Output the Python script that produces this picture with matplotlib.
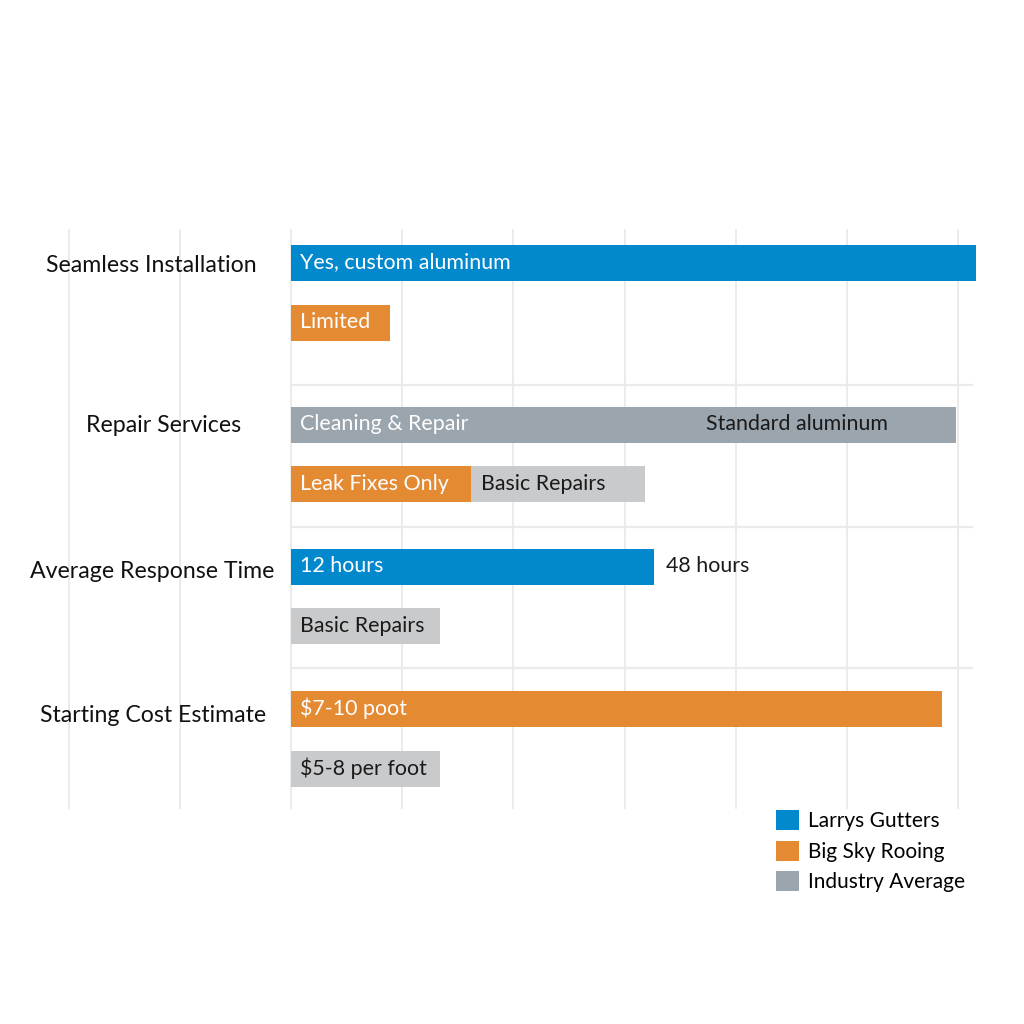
import matplotlib
matplotlib.use("Agg")
import matplotlib.pyplot as plt
from matplotlib.patches import Patch

plt.rcParams['font.family'] = ['Lato', 'DejaVu Sans']

# categories and their label rows
categories = ["Seamless Installation", "Repair Services",
              "Average Response Time", "Starting Cost Estimate"]

# bar segments (one row can hold two stacked segments)
seg_row = [0, 1, 2, 3, 3, 4, 5, 6, 7]
seg_width = [6.16, 0.89, 5.98, 1.62, 1.56, 3.26, 1.34, 5.85, 1.34]
seg_color = ["blue", "orange", "slate", "orange", "light", "blue", "light", "orange", "light"]
seg_label = ["Yes, custom aluminum", "Limited", "Cleaning & Repair", "Leak Fixes Only",
             "Basic Repairs", "12 hours", "Basic Repairs", "$7-10 poot", "$5-8 per foot"]

# extra text labels (row, x position, text)
extra_row = [2, 4]
extra_x = [3.73, 3.37]
extra_text = ["Standard aluminum", "48 hours"]

legend_names = ["Larrys Gutters", "Big Sky Rooing", "Industry Average"]
legend_keys = ["blue", "orange", "slate"]

colors = {"blue": "#0288cc", "orange": "#e38a33", "slate": "#9aa5ae", "light": "#c9cacc"}
text_colors = {"blue": "white", "orange": "white", "slate": "white", "light": "#1a1a1a"}

# layout (pixel rows, axis uses grid units along x)
row_y = [263, 322.5, 424.5, 484, 567, 626, 709, 768.5]
label_cx = [151, 164, 152, 153]
label_y = [265, 426, 572, 716]
bar_h = 36
px0, unit = 291, 111.2

fig = plt.figure(figsize=(10.24, 10.24), dpi=100)
ax = fig.add_axes([0, 0, 1, 1])
ax.set_xlim(-px0 / unit, (1024 - px0) / unit)
ax.set_ylim(1024, 0)
ax.axis("off")

# grid
for g in range(-2, 7):
    ax.plot([g, g], [230, 808], color="#ebebeb", lw=1.4, zorder=0)
for y in [385, 527, 668]:
    ax.plot([0, (972 - px0) / unit], [y, y], color="#ebebeb", lw=1.6, zorder=0)

# bars
start = {}
for r, w, c, lab in zip(seg_row, seg_width, seg_color, seg_label):
    left = start.get(r, 0)
    ax.barh(row_y[r], w, left=left, height=bar_h, color=colors[c], zorder=2)
    ax.text(left + 0.085, row_y[r] - 0.5, lab, color=text_colors[c], fontsize=15.4,
            va="center", ha="left", zorder=3)
    start[r] = left + w

for r, x, t in zip(extra_row, extra_x, extra_text):
    ax.text(x, row_y[r] - 0.5, t, color="#1a1a1a", fontsize=15.4,
            va="center", ha="left", zorder=3)

# category labels
for cat, cx, cy in zip(categories, label_cx, label_y):
    ax.text((cx - px0) / unit, cy, cat, fontsize=16.7, color="#111111",
            ha="center", va="center")

handles = [Patch(facecolor=colors[k]) for k in legend_keys]
fig.legend(handles, legend_names, loc="upper left", bbox_to_anchor=(768 / 1024, 1 - 802 / 1024),
           frameon=False, fontsize=15, handlelength=1.1, handleheight=1.1,
           handletextpad=0.4, labelspacing=0.45, borderaxespad=0)

fig.savefig("out.png", dpi=100, facecolor="white")
